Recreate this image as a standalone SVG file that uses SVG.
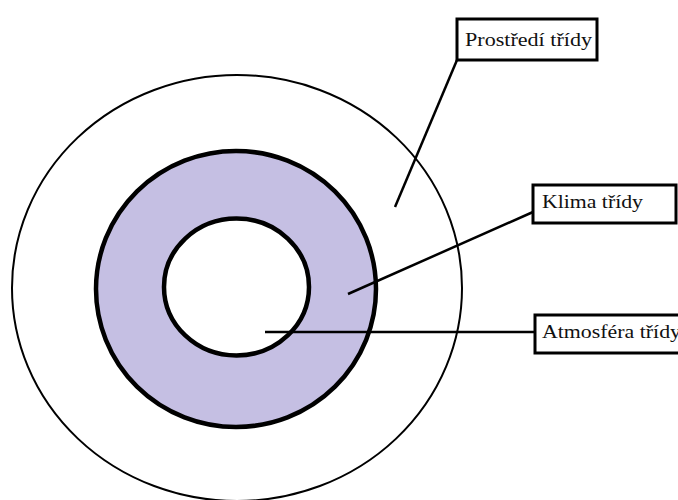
<svg xmlns="http://www.w3.org/2000/svg" width="678" height="500" viewBox="0 0 678 500">
<style>
.box{fill:#fff;stroke:#000;stroke-width:3}
.lbl{font-family:"Liberation Serif","Times New Roman",serif;font-size:18px;fill:#111}
.conn{stroke:#000;stroke-width:2.5;fill:none}
</style>
<rect width="678" height="500" fill="#fff"/>
<g id="rings">
<ellipse cx="237" cy="288" rx="225" ry="213" fill="#fff" stroke="#000" stroke-width="2"/>
<ellipse cx="236" cy="289" rx="140" ry="138" fill="#c5bfe3" stroke="#000" stroke-width="4.5"/>
<ellipse cx="236.5" cy="287" rx="72.5" ry="68.5" fill="#fff" stroke="#000" stroke-width="4.5"/>
</g>
<g id="connectors">
<line class="conn" x1="457" y1="60" x2="395" y2="207"/>
<line class="conn" x1="533" y1="212" x2="348" y2="294"/>
<line class="conn" x1="535" y1="332" x2="265" y2="332"/>
</g>
<g id="node-prostredi">
<rect class="box" x="457" y="19" width="140" height="41"/>
<text class="lbl" x="465" y="46" textLength="127" lengthAdjust="spacingAndGlyphs">Prostředí třídy</text>
</g>
<g id="node-klima">
<rect class="box" x="533" y="185" width="143" height="38"/>
<text class="lbl" x="542" y="208" textLength="101" lengthAdjust="spacingAndGlyphs">Klima třídy</text>
</g>
<g id="node-atmosfera">
<rect class="box" x="535" y="315" width="150" height="38"/>
<text class="lbl" x="542" y="338" textLength="139" lengthAdjust="spacingAndGlyphs">Atmosféra třídy</text>
</g>
</svg>
